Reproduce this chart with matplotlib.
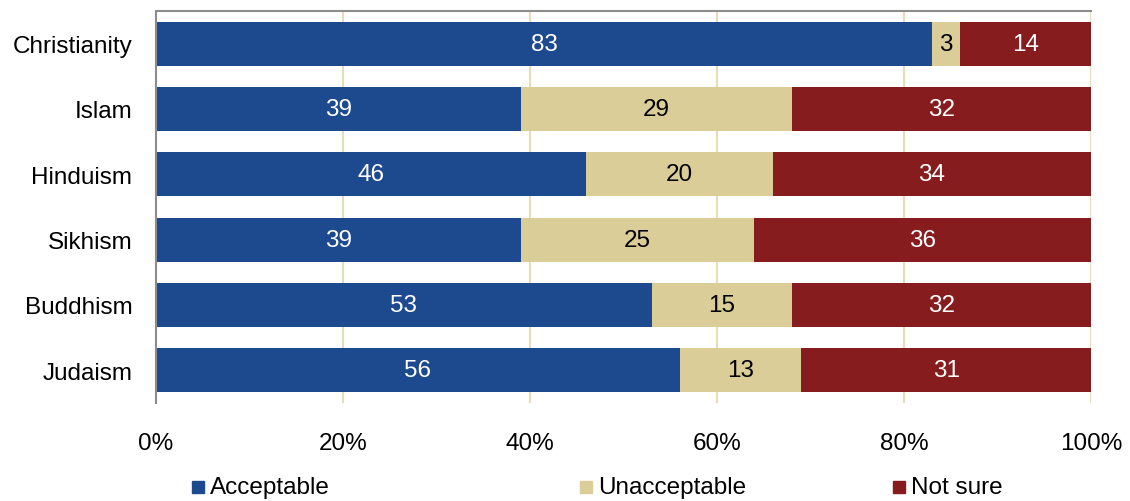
import matplotlib
matplotlib.use("Agg")
import matplotlib.pyplot as plt
from matplotlib.patches import Rectangle

religions = ["Christianity", "Islam", "Hinduism", "Sikhism", "Buddhism", "Judaism"]
acceptable = [83, 39, 46, 39, 53, 56]
unacceptable = [3, 29, 20, 25, 15, 13]
not_sure = [14, 32, 34, 36, 32, 31]
series_names = ["Acceptable", "Unacceptable", "Not sure"]
tick_values = [0, 20, 40, 60, 80, 100]
tick_labels = ["0%", "20%", "40%", "60%", "80%", "100%"]

colors = ["#1D4A8F", "#DBCD98", "#861C1E"]
text_colors = ["white", "black", "white"]
grid_color = "#E6DCB8"
spine_color = "#8C8C8C"

plt.rcParams["font.family"] = ["Liberation Sans", "DejaVu Sans"]
FS = 17.5

fig = plt.figure(figsize=(11.3, 5.02), dpi=100)
ax = fig.add_axes([156 / 1130, 98 / 502, 935 / 1130, 392 / 502])

ypos = list(range(len(religions)))
left = [0] * len(religions)
for vals, col, tcol in zip([acceptable, unacceptable, not_sure], colors, text_colors):
    bars = ax.barh(ypos, vals, left=left, height=0.67, color=col, zorder=3)
    ax.bar_label(bars, labels=[str(v) for v in vals], label_type="center",
                 color=tcol, fontsize=FS, zorder=4)
    left = [a + b for a, b in zip(left, vals)]

ax.set_xlim(0, 100)
ax.set_ylim(len(religions) - 0.5, -0.5)
ax.set_yticks(ypos)
ax.set_yticklabels(religions, fontsize=FS)
ax.set_xticks(tick_values)
ax.set_xticklabels(tick_labels, fontsize=FS)
ax.tick_params(axis="y", length=0, pad=17)
ax.tick_params(axis="x", length=0, pad=21)
ax.xaxis.grid(True, color=grid_color, linewidth=1.5, zorder=0)
ax.set_axisbelow(True)

for side in ["right", "bottom"]:
    ax.spines[side].set_visible(False)
for side in ["left", "top"]:
    ax.spines[side].set_color(spine_color)
    ax.spines[side].set_linewidth(1.5)
ax.spines["left"].set_zorder(5)

# Legend drawn as individual square markers with labels
legend_x = [192, 580, 893]
legend_y = 488
W, H = 1130, 502
for x, col, name in zip(legend_x, colors, series_names):
    fig.add_artist(Rectangle((x / W, (H - legend_y - 6) / H), 12 / W, 12 / H,
                             transform=fig.transFigure, color=col))
    fig.text((x + 18) / W, (H - legend_y) / H, name, fontsize=FS,
             va="center", ha="left")

fig.savefig("out.png", dpi=100)
